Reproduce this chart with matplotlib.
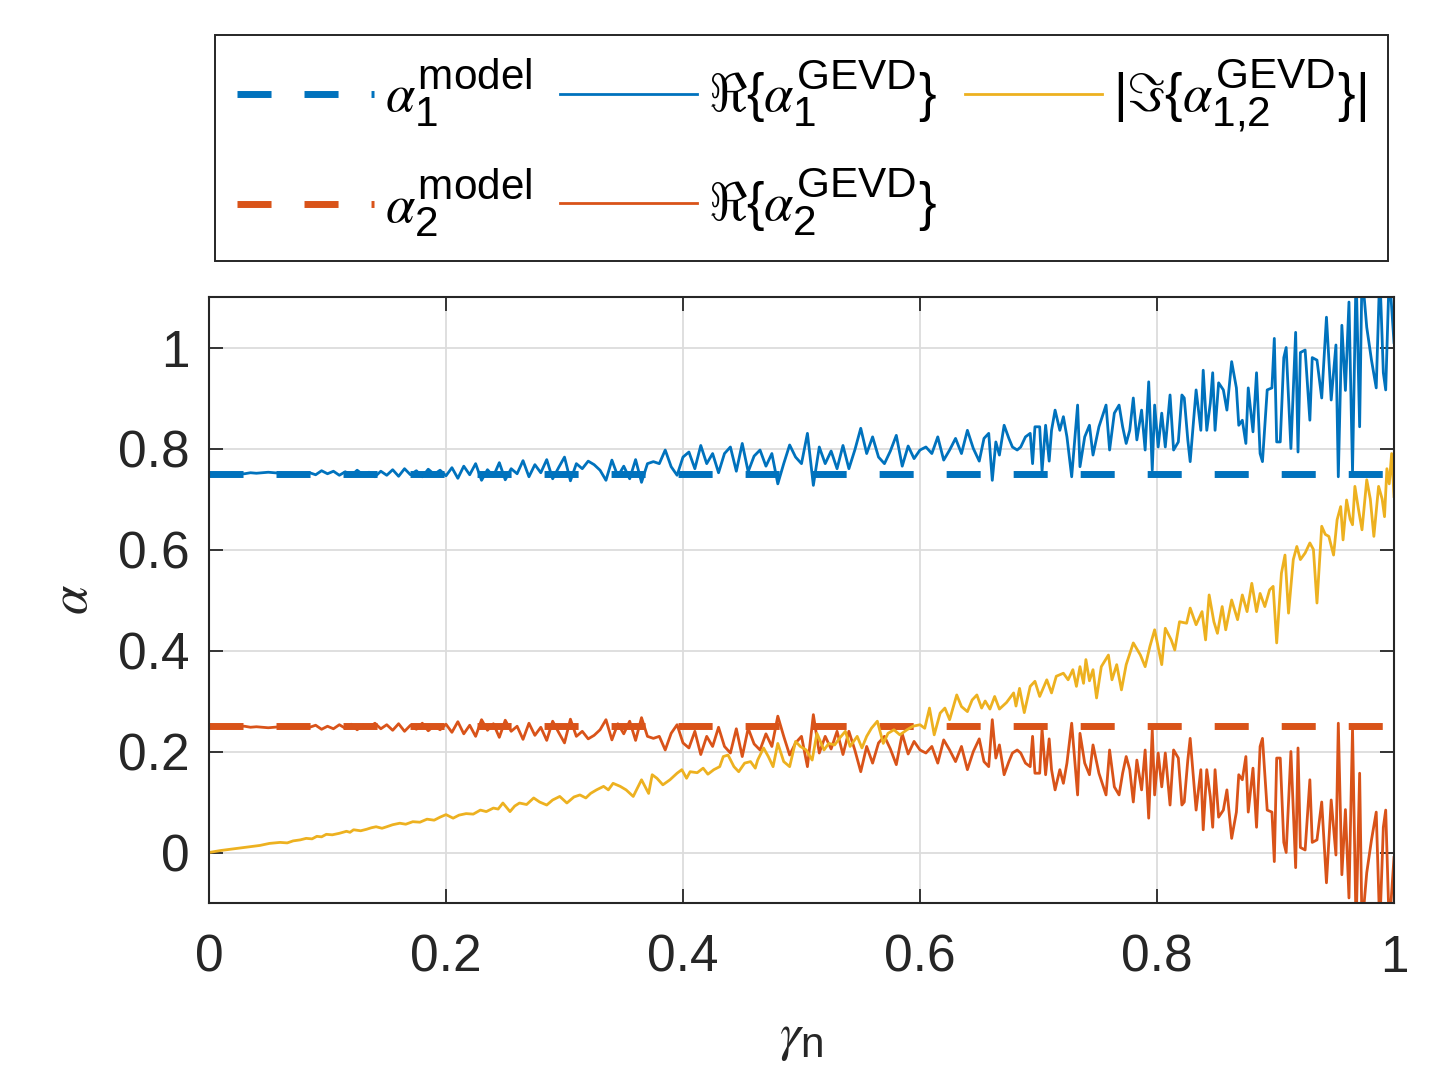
import matplotlib
matplotlib.use('Agg')
import matplotlib.pyplot as plt
import matplotlib._mathtext as mathtext_core

plt.rcParams['font.family'] = ['Liberation Sans', 'DejaVu Sans']
plt.rcParams['mathtext.fontset'] = 'custom'
plt.rcParams['mathtext.rm'] = 'Liberation Sans'
plt.rcParams['mathtext.it'] = 'STIXGeneral:italic'
plt.rcParams['mathtext.fallback'] = 'cm'
# MATLAB draws sub/superscripts larger than mathtext does
mathtext_core.SHRINK_FACTOR = 0.8

# model values (constant)
gamma_model = [0.0, 1.0]
a1_model = [0.75, 0.75]
a2_model = [0.25, 0.25]

gamma_re = [
    0.000, 0.005, 0.010, 0.015, 0.020, 0.025, 0.030, 0.035, 0.040, 0.045,
    0.050, 0.055, 0.060, 0.065, 0.070, 0.075, 0.080, 0.085, 0.090, 0.095,
    0.100, 0.105, 0.110, 0.115, 0.120, 0.125, 0.130, 0.135, 0.140, 0.145,
    0.150, 0.155, 0.160, 0.165, 0.170, 0.175, 0.180, 0.185, 0.190, 0.195,
    0.200, 0.205, 0.210, 0.215, 0.220, 0.225, 0.230, 0.235, 0.240, 0.245,
    0.250, 0.255, 0.260, 0.265, 0.270, 0.275, 0.280, 0.285, 0.290, 0.295,
    0.300, 0.305, 0.310, 0.315, 0.320, 0.325, 0.330, 0.335, 0.340, 0.345,
    0.350, 0.355, 0.360, 0.365, 0.370, 0.375, 0.380, 0.385, 0.390, 0.395,
    0.400, 0.405, 0.410, 0.415, 0.420, 0.425, 0.430, 0.435, 0.440, 0.445,
    0.450, 0.455, 0.460, 0.465, 0.470, 0.475, 0.480, 0.485, 0.490, 0.495,
    0.500, 0.505, 0.510, 0.515, 0.520, 0.525, 0.530, 0.535, 0.540, 0.545,
    0.550, 0.555, 0.560, 0.565, 0.570, 0.575, 0.580, 0.585, 0.590, 0.595,
    0.600, 0.605, 0.610, 0.615, 0.620, 0.625, 0.630, 0.635, 0.640, 0.645,
    0.650, 0.654, 0.658, 0.661, 0.664, 0.667, 0.671, 0.675, 0.678, 0.682,
    0.685, 0.689, 0.693, 0.695, 0.697, 0.701, 0.703, 0.706, 0.709, 0.711,
    0.714, 0.718, 0.721, 0.724, 0.728, 0.733, 0.735, 0.739, 0.743, 0.746,
    0.751, 0.757, 0.760, 0.764, 0.768, 0.771, 0.774, 0.777, 0.780, 0.783,
    0.787, 0.790, 0.793, 0.796, 0.798, 0.801, 0.804, 0.807, 0.811, 0.814,
    0.818, 0.821, 0.823, 0.826, 0.828, 0.833, 0.837, 0.839, 0.842, 0.845,
    0.847, 0.849, 0.852, 0.856, 0.859, 0.863, 0.867, 0.869, 0.872, 0.875,
    0.877, 0.881, 0.884, 0.887, 0.889, 0.893, 0.897, 0.899, 0.901, 0.904,
    0.907, 0.909, 0.913, 0.917, 0.919, 0.921, 0.925, 0.929, 0.931, 0.935,
    0.939, 0.943, 0.947, 0.951, 0.953, 0.956, 0.959, 0.962, 0.965, 0.968,
    0.971, 0.973, 0.977, 0.981, 0.985, 0.988, 0.991, 0.993, 0.996, 1.000,
]

# Re{alpha_1^GEVD}
re_a1 = [
    0.750, 0.751, 0.750, 0.749, 0.751, 0.750, 0.750, 0.752, 0.751, 0.752,
    0.753, 0.752, 0.751, 0.750, 0.751, 0.749, 0.750, 0.752, 0.748, 0.756,
    0.750, 0.755, 0.747, 0.754, 0.746, 0.757, 0.748, 0.753, 0.744, 0.755,
    0.747, 0.758, 0.745, 0.760, 0.748, 0.756, 0.744, 0.759, 0.749, 0.757,
    0.746, 0.762, 0.741, 0.765, 0.748, 0.770, 0.737, 0.758, 0.745, 0.772,
    0.738, 0.760, 0.750, 0.776, 0.744, 0.768, 0.752, 0.778, 0.740, 0.762,
    0.783, 0.736, 0.770, 0.760, 0.775, 0.768, 0.757, 0.737, 0.777, 0.745,
    0.765, 0.740, 0.778, 0.733, 0.770, 0.774, 0.770, 0.797, 0.764, 0.747,
    0.783, 0.793, 0.760, 0.806, 0.770, 0.790, 0.752, 0.790, 0.803, 0.755,
    0.810, 0.754, 0.785, 0.797, 0.765, 0.790, 0.730, 0.770, 0.807, 0.783,
    0.770, 0.830, 0.727, 0.803, 0.770, 0.795, 0.760, 0.806, 0.760, 0.797,
    0.840, 0.790, 0.823, 0.783, 0.770, 0.795, 0.826, 0.765, 0.805, 0.780,
    0.797, 0.803, 0.790, 0.823, 0.777, 0.797, 0.820, 0.790, 0.836, 0.800,
    0.775, 0.820, 0.830, 0.737, 0.813, 0.787, 0.846, 0.820, 0.803, 0.797,
    0.803, 0.823, 0.830, 0.770, 0.843, 0.843, 0.755, 0.846, 0.775, 0.836,
    0.876, 0.836, 0.863, 0.823, 0.744, 0.886, 0.764, 0.823, 0.846, 0.787,
    0.843, 0.886, 0.797, 0.870, 0.886, 0.843, 0.810, 0.836, 0.900, 0.817,
    0.876, 0.797, 0.932, 0.757, 0.886, 0.803, 0.870, 0.803, 0.906, 0.797,
    0.813, 0.906, 0.900, 0.817, 0.774, 0.916, 0.836, 0.955, 0.836, 0.890,
    0.950, 0.836, 0.930, 0.916, 0.876, 0.972, 0.920, 0.846, 0.856, 0.810,
    0.920, 0.833, 0.950, 0.790, 0.774, 0.916, 0.920, 1.018, 0.813, 0.813,
    0.980, 1.000, 0.800, 1.030, 0.793, 0.990, 0.995, 0.856, 0.980, 0.975,
    0.900, 1.060, 0.896, 1.005, 0.744, 1.044, 0.915, 1.090, 0.754, 1.150,
    0.843, 1.150, 1.040, 0.975, 0.920, 1.150, 0.950, 0.916, 1.150, 1.010,
]

# Re{alpha_2^GEVD}
re_a2 = [
    0.250, 0.249, 0.250, 0.251, 0.249, 0.250, 0.250, 0.248, 0.249, 0.248,
    0.247, 0.248, 0.249, 0.250, 0.249, 0.251, 0.250, 0.248, 0.252, 0.244,
    0.250, 0.245, 0.253, 0.246, 0.254, 0.243, 0.252, 0.247, 0.256, 0.245,
    0.253, 0.242, 0.255, 0.240, 0.252, 0.244, 0.256, 0.241, 0.251, 0.243,
    0.254, 0.238, 0.259, 0.235, 0.252, 0.230, 0.263, 0.242, 0.255, 0.228,
    0.262, 0.240, 0.250, 0.224, 0.256, 0.232, 0.248, 0.222, 0.260, 0.238,
    0.217, 0.264, 0.230, 0.240, 0.225, 0.232, 0.243, 0.263, 0.223, 0.255,
    0.235, 0.260, 0.222, 0.267, 0.230, 0.226, 0.230, 0.203, 0.236, 0.253,
    0.217, 0.207, 0.240, 0.194, 0.230, 0.210, 0.248, 0.210, 0.197, 0.245,
    0.190, 0.246, 0.215, 0.203, 0.235, 0.210, 0.270, 0.230, 0.193, 0.217,
    0.230, 0.170, 0.273, 0.197, 0.230, 0.205, 0.240, 0.194, 0.240, 0.203,
    0.160, 0.210, 0.177, 0.217, 0.230, 0.205, 0.174, 0.235, 0.195, 0.220,
    0.203, 0.197, 0.210, 0.177, 0.223, 0.203, 0.180, 0.210, 0.164, 0.200,
    0.225, 0.180, 0.170, 0.263, 0.187, 0.213, 0.154, 0.180, 0.197, 0.203,
    0.197, 0.177, 0.170, 0.230, 0.157, 0.157, 0.245, 0.154, 0.225, 0.164,
    0.124, 0.164, 0.137, 0.177, 0.256, 0.114, 0.236, 0.177, 0.154, 0.213,
    0.157, 0.114, 0.203, 0.130, 0.114, 0.157, 0.190, 0.164, 0.100, 0.183,
    0.124, 0.203, 0.068, 0.243, 0.114, 0.197, 0.130, 0.197, 0.094, 0.203,
    0.187, 0.094, 0.100, 0.183, 0.226, 0.084, 0.164, 0.045, 0.164, 0.110,
    0.050, 0.164, 0.070, 0.084, 0.124, 0.028, 0.080, 0.154, 0.144, 0.190,
    0.080, 0.167, 0.050, 0.210, 0.226, 0.084, 0.080, -0.018, 0.187, 0.187,
    0.020, 0.000, 0.200, -0.030, 0.207, 0.010, 0.005, 0.144, 0.020, 0.025,
    0.100, -0.060, 0.104, -0.005, 0.256, -0.044, 0.085, -0.090, 0.246, -0.150,
    0.157, -0.150, -0.040, 0.025, 0.080, -0.150, 0.050, 0.084, -0.150, -0.010,
]

# |Im{alpha_{1,2}^GEVD}|
gamma_im = [
    0.000, 0.010, 0.020, 0.030, 0.043, 0.051, 0.060, 0.066, 0.071, 0.077,
    0.082, 0.087, 0.091, 0.095, 0.099, 0.104, 0.110, 0.116, 0.119, 0.122,
    0.128, 0.133, 0.137, 0.141, 0.146, 0.150, 0.155, 0.161, 0.166, 0.172,
    0.178, 0.184, 0.190, 0.195, 0.200, 0.206, 0.211, 0.217, 0.223, 0.229,
    0.234, 0.240, 0.244, 0.248, 0.254, 0.258, 0.262, 0.268, 0.274, 0.279,
    0.285, 0.290, 0.296, 0.302, 0.308, 0.313, 0.318, 0.322, 0.327, 0.333,
    0.337, 0.341, 0.347, 0.352, 0.358, 0.365, 0.371, 0.374, 0.378, 0.383,
    0.389, 0.395, 0.399, 0.403, 0.406, 0.412, 0.417, 0.421, 0.426, 0.431,
    0.434, 0.438, 0.443, 0.447, 0.452, 0.457, 0.461, 0.463, 0.468, 0.472,
    0.476, 0.480, 0.485, 0.490, 0.495, 0.499, 0.504, 0.509, 0.513, 0.519,
    0.523, 0.528, 0.532, 0.537, 0.541, 0.547, 0.551, 0.555, 0.559, 0.564,
    0.569, 0.573, 0.578, 0.583, 0.589, 0.594, 0.600, 0.604, 0.608, 0.612,
    0.617, 0.621, 0.625, 0.631, 0.635, 0.640, 0.644, 0.648, 0.652, 0.655,
    0.659, 0.663, 0.667, 0.673, 0.679, 0.681, 0.684, 0.688, 0.693, 0.697,
    0.701, 0.707, 0.711, 0.715, 0.721, 0.725, 0.729, 0.732, 0.735, 0.738,
    0.740, 0.743, 0.746, 0.749, 0.753, 0.759, 0.762, 0.766, 0.770, 0.774,
    0.780, 0.786, 0.790, 0.794, 0.798, 0.804, 0.807, 0.812, 0.815, 0.819,
    0.825, 0.828, 0.833, 0.838, 0.841, 0.844, 0.848, 0.851, 0.855, 0.858,
    0.863, 0.868, 0.872, 0.876, 0.880, 0.884, 0.887, 0.891, 0.895, 0.898,
    0.901, 0.905, 0.908, 0.911, 0.915, 0.918, 0.921, 0.925, 0.929, 0.932,
    0.935, 0.939, 0.942, 0.945, 0.949, 0.952, 0.955, 0.957, 0.960, 0.963,
    0.965, 0.967, 0.970, 0.973, 0.977, 0.980, 0.983, 0.987, 0.990, 0.992,
    0.994, 0.996, 0.998, 1.000,
]
im_a12 = [
    0.000, 0.004, 0.007, 0.010, 0.014, 0.018, 0.020, 0.019, 0.023, 0.025,
    0.028, 0.027, 0.032, 0.031, 0.036, 0.035, 0.038, 0.042, 0.040, 0.045,
    0.043, 0.046, 0.049, 0.051, 0.048, 0.051, 0.055, 0.058, 0.056, 0.061,
    0.060, 0.066, 0.064, 0.070, 0.075, 0.068, 0.074, 0.077, 0.076, 0.084,
    0.081, 0.088, 0.086, 0.098, 0.081, 0.092, 0.098, 0.095, 0.108, 0.100,
    0.094, 0.104, 0.111, 0.098, 0.110, 0.114, 0.108, 0.117, 0.124, 0.131,
    0.124, 0.137, 0.131, 0.124, 0.111, 0.144, 0.117, 0.154, 0.147, 0.134,
    0.144, 0.157, 0.164, 0.147, 0.160, 0.158, 0.167, 0.155, 0.164, 0.170,
    0.190, 0.193, 0.170, 0.160, 0.177, 0.180, 0.167, 0.183, 0.207, 0.190,
    0.170, 0.216, 0.180, 0.170, 0.220, 0.210, 0.203, 0.183, 0.236, 0.203,
    0.216, 0.213, 0.226, 0.240, 0.210, 0.230, 0.207, 0.230, 0.246, 0.260,
    0.216, 0.236, 0.243, 0.233, 0.243, 0.250, 0.253, 0.246, 0.286, 0.233,
    0.276, 0.286, 0.263, 0.312, 0.289, 0.279, 0.302, 0.312, 0.286, 0.300,
    0.284, 0.309, 0.284, 0.297, 0.316, 0.290, 0.325, 0.277, 0.329, 0.339,
    0.309, 0.342, 0.316, 0.349, 0.355, 0.342, 0.362, 0.329, 0.368, 0.335,
    0.382, 0.340, 0.362, 0.306, 0.368, 0.391, 0.342, 0.372, 0.322, 0.372,
    0.415, 0.391, 0.368, 0.408, 0.441, 0.372, 0.444, 0.421, 0.401, 0.457,
    0.454, 0.484, 0.451, 0.477, 0.421, 0.510, 0.457, 0.434, 0.487, 0.441,
    0.500, 0.461, 0.510, 0.477, 0.533, 0.477, 0.513, 0.487, 0.520, 0.527,
    0.415, 0.553, 0.589, 0.474, 0.580, 0.606, 0.580, 0.593, 0.613, 0.600,
    0.494, 0.646, 0.630, 0.626, 0.589, 0.659, 0.685, 0.619, 0.698, 0.660,
    0.649, 0.725, 0.680, 0.639, 0.738, 0.700, 0.626, 0.725, 0.700, 0.665,
    0.760, 0.730, 0.790, 0.705,
]

xticks = [0, 0.2, 0.4, 0.6, 0.8, 1]
xticklabels = ['0', '0.2', '0.4', '0.6', '0.8', '1']
yticks = [0, 0.2, 0.4, 0.6, 0.8, 1]
yticklabels = ['0', '0.2', '0.4', '0.6', '0.8', '1']

blue = '#0072BD'
orange = '#D95319'
yellow = '#EDB120'
dark = '#262626'

fig = plt.figure(figsize=(14.51, 10.73), dpi=100)
ax = fig.add_axes([209 / 1451, 1 - 903 / 1073, 1185 / 1451, 606 / 1073])

dash = (0, (4.9, 4.75))
l1, = ax.plot(gamma_model, a1_model, color=blue, lw=5, ls=dash,
              label=r'$\alpha_1^{\mathrm{model}}$')
l2, = ax.plot(gamma_model, a2_model, color=orange, lw=5, ls=dash,
              label=r'$\alpha_2^{\mathrm{model}}$')
l3, = ax.plot(gamma_re, re_a1, color=blue, lw=2.0,
              label=r'$\Re\{\alpha_1^{\mathrm{GEVD}}\}$')
l4, = ax.plot(gamma_re, re_a2, color=orange, lw=2.0,
              label=r'$\Re\{\alpha_2^{\mathrm{GEVD}}\}$')
l5, = ax.plot(gamma_im, im_a12, color=yellow, lw=2.0,
              label=r'$|\Im\{\alpha_{1{,}2}^{\mathrm{GEVD}}\}|$')

ax.set_xlim(0, 1)
ax.set_ylim(-0.1, 1.1)
ax.set_xticks(xticks)
ax.set_xticklabels(xticklabels)
ax.set_yticks(yticks)
ax.set_yticklabels(yticklabels)
ax.grid(True, color='#dcdcdc', lw=1.3)
ax.set_axisbelow(True)
ax.tick_params(axis='both', direction='in', length=10, width=1.3, color=dark,
               labelcolor=dark, labelsize=37, top=True, right=True)
ax.tick_params(axis='x', pad=22)
ax.tick_params(axis='y', pad=14)
for s in ax.spines.values():
    s.set_color(dark)
    s.set_linewidth(1.5)

ax.set_xlabel(r'$\gamma_\mathrm{n}$', fontsize=38, color=dark, labelpad=22)
ax.set_ylabel(r'$\alpha$', fontsize=38, color=dark, labelpad=14)

leg = fig.legend(handles=[l1, l2, l3, l4, l5], ncol=3, loc='lower left',
                 bbox_to_anchor=(215 / 1451, 1 - 261 / 1073, 1173 / 1451, 225 / 1073),
                 mode='expand', fontsize=38, frameon=True, fancybox=False,
                 edgecolor=dark, framealpha=1, handlelength=2.6,
                 handletextpad=0.2, columnspacing=0.6, borderpad=0.42,
                 labelspacing=0.7, borderaxespad=0)
leg.get_frame().set_linewidth(1.4)

fig.savefig('out.png', dpi=100)
